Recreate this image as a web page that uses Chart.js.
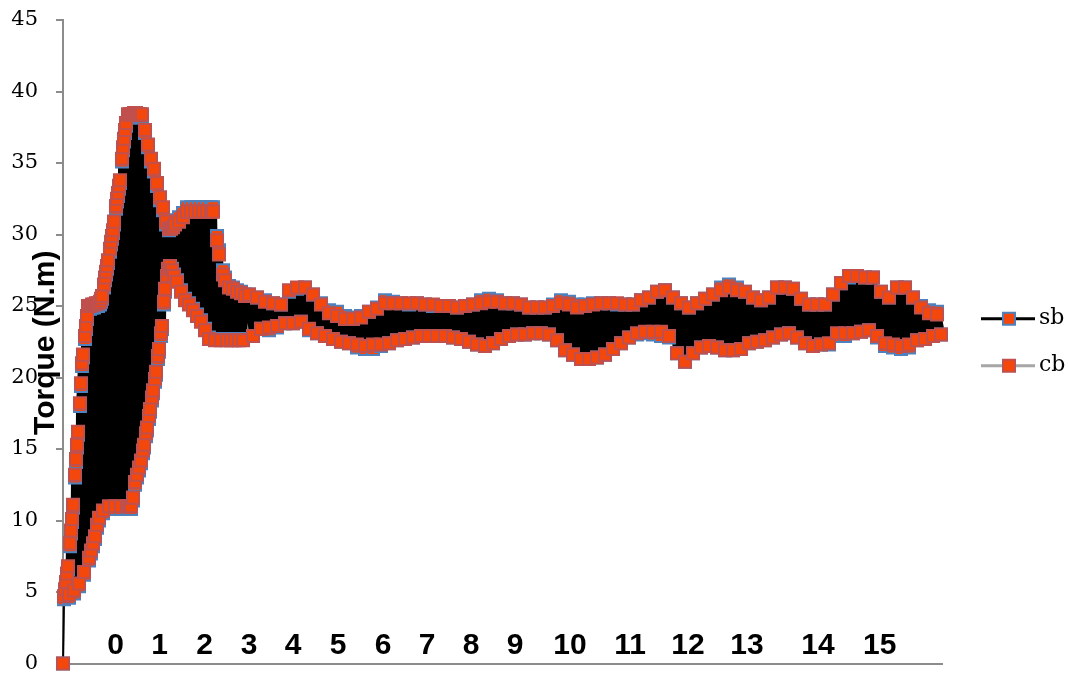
<!DOCTYPE html>
<html><head><meta charset="utf-8">
<script src="https://cdn.jsdelivr.net/npm/chart.js@4/dist/chart.umd.min.js"></script>
<style>html,body{margin:0;padding:0;background:#fff;overflow:hidden}canvas{display:block}</style>
</head><body>
<canvas id="c" width="1069" height="674"></canvas>
<script>
// Sampling runs: [first sample time, step, count]
const sampleRuns = [[0, 1, 113], [114, 2, 35], [186, 4, 174]];

// Torque samples (N.m)
const sb = [
 // start-up (fine sampling)
 0, 4.5, 5.0, 5.5, 6.1, 6.6, 4.6, 8.2, 9.1, 9.9,
 10.9, 4.9, 13.0, 14.1, 15.1, 16.0, 5.4, 18.0, 19.4, 20.8,
 21.4, 6.2, 22.7, 23.4, 24.1, 24.8, 7.2, 24.8, 7.7, 24.9,
 8.2, 24.9, 8.7, 25.0, 9.5, 25.0, 10.0, 25.1, 25.3, 25.5,
 10.5, 26.3, 26.8, 27.2, 27.6, 28.0, 10.8, 28.8, 29.3, 29.7,
 30.1, 30.7, 10.8, 31.8, 32.3, 32.7, 33.2, 33.6, 10.8, 35.1,
 35.9, 36.5, 37.1, 37.6, 10.8, 38.2, 10.8, 38.2, 10.8, 38.2,
 11.4, 38.3, 12.5, 38.3, 13.0, 38.2, 13.5, 38.2, 14.0, 38.2,
 14.7, 15.1, 37.1, 15.9, 16.3, 36.1, 17.1, 17.6, 35.1, 18.4,
 18.9, 34.4, 19.7, 20.2, 33.4, 21.3, 21.8, 32.4, 22.9, 23.4,
 31.7, 25.1, 26.0, 30.7, 26.9, 27.4, 30.3, 27.8, 30.6, 27.6,
 30.8, 27.2, 31.0,
 // second hump
 26.8, 31.2, 26.1, 31.5, 25.5, 31.9, 25.2, 31.9, 24.8, 31.9,
 24.4, 31.9, 24.0, 31.9, 23.4, 31.9, 22.8, 31.9, 31.9, 22.7,
 29.9, 28.9, 22.7, 27.5, 27.0, 22.7, 26.4, 22.7, 26.3, 22.7,
 26.1, 22.7, 26.0, 22.7, 25.8,
 // settled running
 25.8, 22.9, 25.6, 23.4,
 25.4, 23.3, 25.2, 23.5, 25.1, 23.8, 26.0, 23.8, 26.2, 23.9,
 26.3, 23.3, 25.8, 23.1, 25.2, 22.9, 24.7, 22.7, 24.6, 22.5,
 24.3, 22.4, 24.2, 22.1, 24.3, 22.0, 24.6, 22.0, 24.9, 22.2,
 25.4, 22.4, 25.3, 22.6, 25.2, 22.7, 25.1, 22.8, 25.2, 22.9,
 25.1, 22.9, 25.0, 22.9, 25.0, 22.9, 25.0, 22.8, 24.9, 22.7,
 25.0, 22.5, 25.1, 22.3, 25.4, 22.2, 25.5, 22.4, 25.4, 22.7,
 25.2, 22.9, 25.2, 23.0, 25.1, 23.0, 24.9, 23.1, 24.9, 23.1,
 24.9, 23.0, 25.1, 22.6, 25.4, 21.9, 25.3, 21.6, 25.1, 21.3,
 25.1, 21.3, 25.2, 21.4, 25.2, 21.6, 25.2, 22.0, 25.1, 22.4,
 25.1, 22.8, 25.1, 23.0, 25.4, 23.1, 25.6, 23.0, 26.0, 22.9,
 26.1, 22.8, 25.6, 21.7, 25.2, 21.1, 24.9, 21.7, 25.2, 22.1,
 25.5, 22.2, 25.8, 22.1, 26.3, 21.9, 26.5, 21.9, 26.3, 22.0,
 26.0, 22.4, 25.6, 22.5, 25.4, 22.6, 25.6, 22.8, 26.3, 23.0,
 26.3, 23.1, 26.2, 22.8, 25.5, 22.4, 25.1, 22.2, 25.1, 22.3,
 25.1, 22.3, 25.8, 22.9, 26.6, 22.9, 27.0, 23.1, 27.1, 23.2,
 27.0, 23.3, 27.0, 22.8, 26.0, 22.2, 25.6, 22.1, 26.3, 22.0,
 26.3, 22.1, 25.6, 22.6, 25.0, 22.7, 24.7, 22.9, 24.6, 23.0
];
const cb = [
 // start-up (fine sampling)
 0, 4.7, 5.2, 5.7, 6.3, 6.8, 4.8, 8.4, 9.3, 10.1,
 11.1, 5.1, 13.2, 14.3, 15.3, 16.2, 5.6, 18.2, 19.6, 21.0,
 21.6, 6.4, 22.9, 23.6, 24.3, 25.0, 7.4, 25.0, 7.9, 25.1,
 8.4, 25.1, 8.9, 25.2, 9.7, 25.2, 10.2, 25.3, 25.5, 25.7,
 10.7, 26.5, 27.0, 27.4, 27.8, 28.2, 11.0, 29.0, 29.5, 29.9,
 30.3, 30.9, 11.0, 32.0, 32.5, 32.9, 33.4, 33.8, 11.0, 35.3,
 36.1, 36.7, 37.3, 37.8, 11.0, 38.4, 11.0, 38.4, 11.0, 38.4,
 11.6, 38.5, 12.7, 38.5, 13.2, 38.4, 13.7, 38.4, 14.2, 38.4,
 14.9, 15.3, 37.3, 16.1, 16.5, 36.3, 17.3, 17.8, 35.3, 18.6,
 19.1, 34.6, 19.9, 20.4, 33.6, 21.5, 22.0, 32.6, 23.1, 23.6,
 31.9, 25.3, 26.2, 30.9, 27.1, 27.6, 30.4, 27.8, 30.4, 27.5,
 30.5, 27.1, 30.7,
 // second hump
 26.7, 30.9, 26.0, 31.2, 25.4, 31.6, 25.1, 31.6, 24.7, 31.6,
 24.3, 31.6, 23.9, 31.6, 23.3, 31.6, 22.7, 31.6, 31.6, 22.6,
 29.6, 28.6, 22.6, 27.2, 26.8, 22.6, 26.3, 22.6, 26.2, 22.6,
 26.0, 22.6, 25.9, 22.6, 25.7,
 // settled running
 25.8, 22.9, 25.6, 23.4,
 25.3, 23.5, 25.2, 23.6, 25.1, 23.8, 26.1, 23.8, 26.3, 23.9,
 26.3, 23.4, 25.8, 23.1, 25.1, 22.9, 24.5, 22.7, 24.3, 22.5,
 24.1, 22.4, 24.1, 22.3, 24.2, 22.2, 24.6, 22.3, 24.8, 22.3,
 25.2, 22.4, 25.2, 22.6, 25.2, 22.7, 25.2, 22.8, 25.2, 22.9,
 25.1, 22.9, 25.1, 22.9, 25.0, 22.9, 25.0, 22.8, 24.9, 22.7,
 25.0, 22.5, 25.1, 22.3, 25.2, 22.2, 25.3, 22.4, 25.3, 22.7,
 25.2, 22.9, 25.2, 23.0, 25.1, 23.0, 24.9, 23.1, 24.9, 23.1,
 24.9, 23.0, 25.0, 22.6, 25.2, 21.9, 25.1, 21.6, 24.9, 21.3,
 25.0, 21.3, 25.1, 21.4, 25.2, 21.6, 25.2, 22.0, 25.2, 22.4,
 25.1, 22.8, 25.1, 23.1, 25.4, 23.2, 25.6, 23.2, 26.0, 23.2,
 26.1, 22.9, 25.6, 21.7, 25.2, 21.1, 24.9, 21.7, 25.2, 22.1,
 25.5, 22.2, 25.8, 22.1, 26.1, 21.9, 26.3, 21.9, 26.1, 22.0,
 26.0, 22.4, 25.6, 22.5, 25.4, 22.6, 25.6, 22.8, 26.3, 23.0,
 26.3, 23.1, 26.2, 22.8, 25.5, 22.4, 25.1, 22.2, 25.1, 22.3,
 25.1, 22.4, 25.8, 23.1, 26.6, 23.1, 27.1, 23.1, 27.1, 23.2,
 27.0, 23.3, 27.0, 22.9, 26.0, 22.4, 25.6, 22.3, 26.3, 22.2,
 26.3, 22.3, 25.6, 22.6, 24.9, 22.7, 24.5, 22.9, 24.4, 23.0
];
const seriesNames = ['sb', 'cb'];
const xTickText = ['0','1','2','3','4','5','6','7','8','9','10','11','12','13','14','15'];
const xTickAt = [52.7, 96.5, 141.7, 186, 230, 275, 320, 364, 408, 452, 507, 567, 625, 684, 755, 816.7];
const xMin = 0, xMax = 879;
const yTitle = 'Torque (N.m)';
const yMin = 0, yMax = 45, yStep = 5;

const t = sampleRuns.flatMap(([a, s, n]) => Array.from({length: n}, (_, k) => a + s * k));
const pts = arr => arr.map((v, i) => ({x: t[i], y: v}));

const MARK_FILL = '#f4470c';
const SB_EDGE = '#4f81bd';
const CB_EDGE = '#c0504d';
const AXIS = '#8c8c8c';

const overlay = {
  id: 'overlay',
  afterDraw(chart) {
    const ctx = chart.ctx, xs = chart.scales.x, ca = chart.chartArea;
    ctx.save();
    ctx.fillStyle = '#000';
    ctx.font = 'bold 30px "Liberation Sans", Arial, sans-serif';
    ctx.textAlign = 'center';
    ctx.textBaseline = 'alphabetic';
    xTickText.forEach((s, k) => ctx.fillText(s, xs.getPixelForValue(xTickAt[k]), ca.bottom - 10));
    ctx.save();
    ctx.translate(ca.left - 9, (ca.top + ca.bottom) / 2 + 1);
    ctx.rotate(-Math.PI / 2);
    ctx.fillText(yTitle, 0, 0);
    ctx.restore();
    const mid = (ca.top + ca.bottom) / 2;
    const rows = [
      {name: seriesNames[0], line: '#000', edge: SB_EDGE, y: mid - 23},
      {name: seriesNames[1], line: '#a6a6a6', edge: CB_EDGE, y: mid + 24}
    ];
    rows.forEach(r => {
      ctx.strokeStyle = r.line; ctx.lineWidth = 3;
      ctx.beginPath(); ctx.moveTo(ca.right + 39, r.y); ctx.lineTo(ca.right + 93, r.y); ctx.stroke();
      ctx.fillStyle = MARK_FILL; ctx.fillRect(ca.right + 61, r.y - 6, 12, 12);
      ctx.strokeStyle = r.edge; ctx.lineWidth = 2; ctx.strokeRect(ca.right + 61, r.y - 6, 12, 12);
      ctx.fillStyle = '#000';
      ctx.font = '22px "DejaVu Serif", serif';
      ctx.textAlign = 'left'; ctx.textBaseline = 'middle';
      ctx.fillText(r.name, ca.right + 97, r.y);
    });
    ctx.restore();
  }
};

const markerSet = (label, data, edge, order) => ({
  label, data: pts(data), showLine: false, pointStyle: 'rect', pointRadius: 8.5, pointBorderWidth: 2,
  pointBackgroundColor: MARK_FILL, pointBorderColor: edge, order, clip: false
});
const lineSet = (label, data, color, width, order) => ({
  label, data: pts(data), borderColor: color, borderWidth: width, pointRadius: 0, borderJoinStyle: 'bevel', order, clip: false,
  segment: {borderWidth: c => (c.p0DataIndex === 0 ? 2 : width)}
});

new Chart(document.getElementById('c'), {
  type: 'line',
  data: {
    datasets: [
      lineSet('cb line', cb, '#a6a6a6', 3, 4),
      lineSet('sb line', sb, '#000', 8, 3),
      markerSet('sb', sb, SB_EDGE, 2),
      markerSet('cb', cb, CB_EDGE, 1)
    ]
  },
  options: {
    responsive: false, animation: false, devicePixelRatio: 1,
    layout: {padding: {top: 20, right: 127, left: 0, bottom: 0}},
    plugins: {legend: {display: false}, tooltip: {enabled: false}},
    elements: {line: {tension: 0}},
    scales: {
      x: {
        type: 'linear', min: xMin, max: xMax,
        ticks: {display: false},
        grid: {display: false, drawTicks: false},
        border: {display: true, color: AXIS, width: 2},
        afterFit(s) { s.height = 9; s.paddingLeft = 0; s.paddingRight = 0; }
      },
      y: {
        min: yMin, max: yMax,
        ticks: {stepSize: yStep, color: '#000', padding: 18, font: {family: '"DejaVu Serif", serif', size: 21}},
        grid: {drawOnChartArea: false, tickLength: 7, color: AXIS, lineWidth: 2},
        border: {color: AXIS, width: 2},
        afterFit(s) { s.width = 63; s.paddingTop = 0; s.paddingBottom = 0; }
      }
    }
  },
  plugins: [overlay]
});
</script>
</body></html>
